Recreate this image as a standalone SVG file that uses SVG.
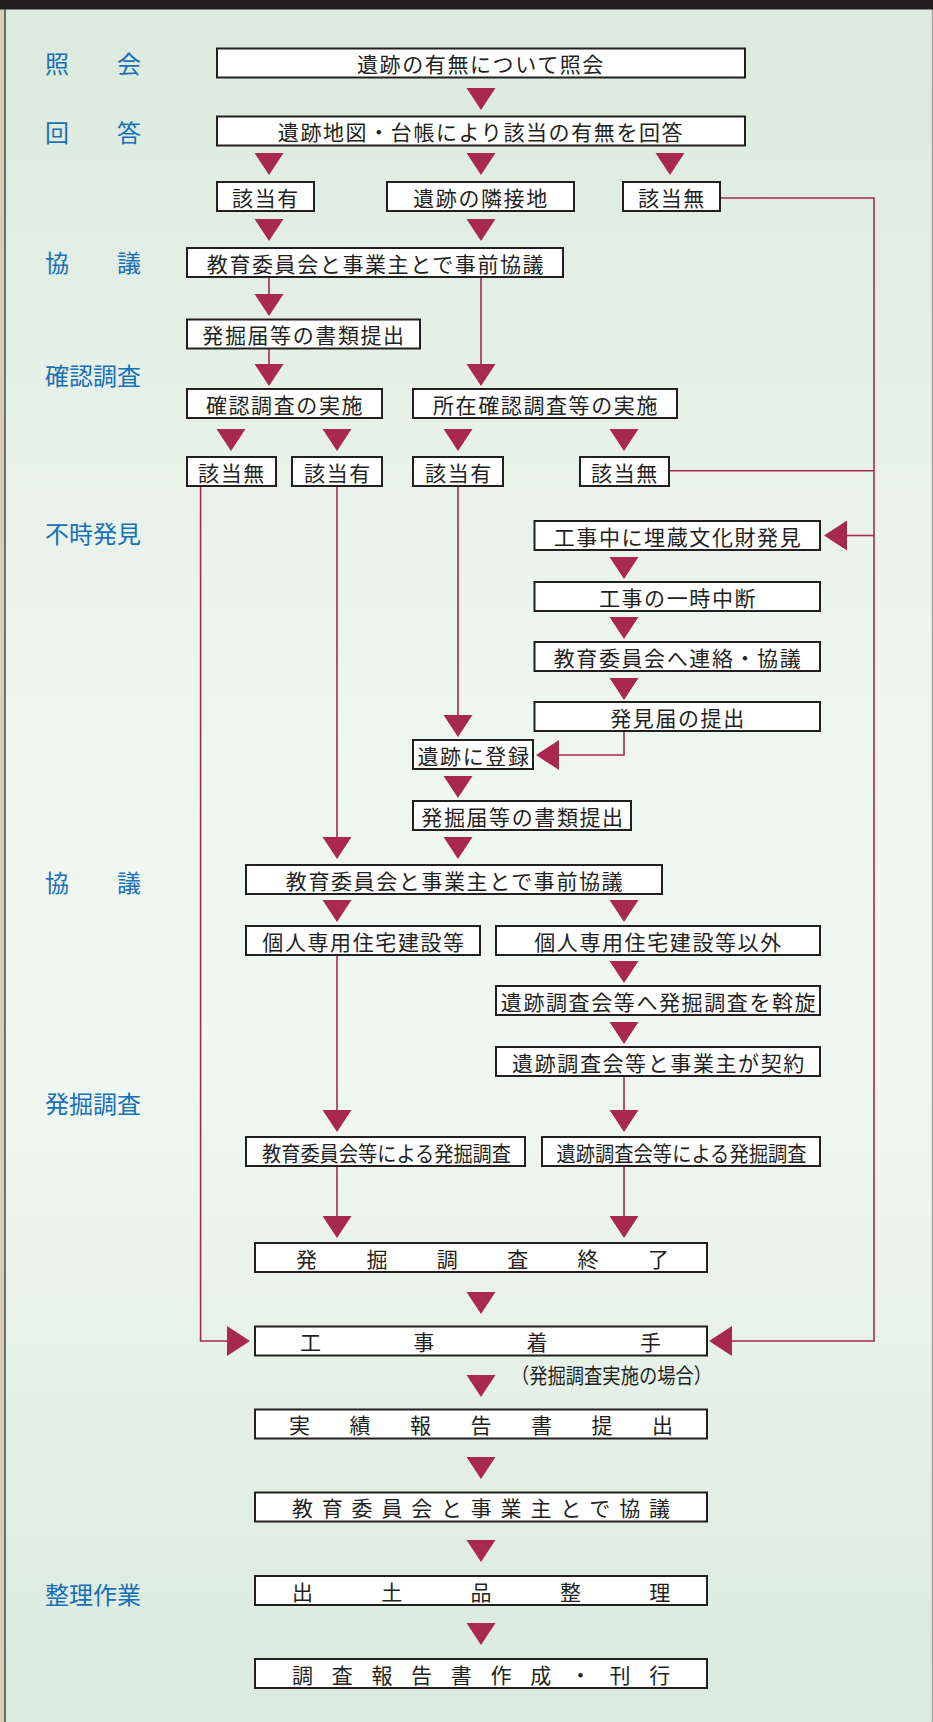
<svg xmlns="http://www.w3.org/2000/svg" xmlns:xlink="http://www.w3.org/1999/xlink" width="933" height="1722" viewBox="0 0 933 1722">
<style>
.bx{fill:#ffffff;stroke:#231f20;stroke-width:2}
.tx{font-family:"Noto Sans CJK JP","Noto Sans CJK SC",sans-serif;font-size:21px;fill:#231f20;text-anchor:middle;dominant-baseline:central;letter-spacing:1.6px}
.sp{font-family:"Noto Sans CJK JP","Noto Sans CJK SC",sans-serif;font-size:21px;fill:#231f20;dominant-baseline:central}
.lb{font-family:"Noto Sans CJK JP","Noto Sans CJK SC",sans-serif;font-size:24px;font-weight:400;fill:#1870b8;dominant-baseline:central}
.ln{fill:none;stroke:#a8284f;stroke-width:1.6}
.ar{fill:#a8284f}
</style>
<defs>
<linearGradient id="bg" x1="0" y1="0" x2="0" y2="1">
<stop offset="0" stop-color="#dbeadd"/>
<stop offset="0.42" stop-color="#eef6f0"/>
<stop offset="0.6" stop-color="#f1f8f3"/>
<stop offset="1" stop-color="#daeadd"/>
</linearGradient>
<path id="dn" class="ar" d="M-14.5,0 H14.5 L0,22 Z"/>
<path id="lt" class="ar" d="M0,0 L23,-15 V15 Z"/>
<path id="rt" class="ar" d="M0,0 L-23,-15 V15 Z"/>
</defs>

<rect x="0" y="0" width="933" height="1722" fill="#d9cdb5"/>
<rect x="5" y="0" width="927" height="1722" fill="url(#bg)"/>
<line x1="5" y1="0" x2="5" y2="1722" stroke="#4a4a4a" stroke-width="1.5"/>
<line x1="932.3" y1="0" x2="932.3" y2="1722" stroke="#9a9a9a" stroke-width="1"/>
<rect x="0" y="0" width="933" height="9.5" fill="#231f20"/>

<g id="labels">
<text class="lb" x="45" y="62" letter-spacing="48">照会</text>
<text class="lb" x="45" y="131.5" letter-spacing="48">回答</text>
<text class="lb" x="45" y="261" letter-spacing="48">協議</text>
<text class="lb" x="45" y="374">確認調査</text>
<text class="lb" x="45" y="532.5">不時発見</text>
<text class="lb" x="45" y="881" letter-spacing="48">協議</text>
<text class="lb" x="45" y="1102.5">発掘調査</text>
<text class="lb" x="45" y="1593">整理作業</text>
</g>

<g id="connectors">
<polyline class="ln" points="720,198 874,198 874,1341 732,1341"/>
<line class="ln" x1="669" y1="470.7" x2="874" y2="470.7"/>
<line class="ln" x1="874" y1="535.5" x2="845" y2="535.5"/>
<polyline class="ln" points="200.6,486 200.6,1341 227,1341"/>
<line class="ln" x1="337" y1="486" x2="337" y2="840"/>
<line class="ln" x1="458" y1="486" x2="458" y2="718"/>
<polyline class="ln" points="624,731 624,755 558,755"/>
<line class="ln" x1="269" y1="278" x2="269" y2="297"/>
<line class="ln" x1="481" y1="278" x2="481" y2="367"/>
<line class="ln" x1="269" y1="349" x2="269" y2="367"/>
<line class="ln" x1="337" y1="955" x2="337" y2="1113"/>
<line class="ln" x1="624" y1="1076" x2="624" y2="1113"/>
<line class="ln" x1="337" y1="1166" x2="337" y2="1219"/>
<line class="ln" x1="624" y1="1166" x2="624" y2="1219"/>

<use href="#dn" x="481" y="88"/>
<use href="#dn" x="269" y="153"/>
<use href="#dn" x="481" y="153"/>
<use href="#dn" x="670" y="153"/>
<use href="#dn" x="269" y="219"/>
<use href="#dn" x="481" y="219"/>
<use href="#dn" x="269" y="294"/>
<use href="#dn" x="481" y="364"/>
<use href="#dn" x="269" y="364"/>
<use href="#dn" x="231" y="429"/>
<use href="#dn" x="337" y="429"/>
<use href="#dn" x="458" y="429"/>
<use href="#dn" x="624" y="429"/>
<use href="#lt" x="824" y="535.5"/>
<use href="#dn" x="624" y="557"/>
<use href="#dn" x="624" y="617"/>
<use href="#dn" x="624" y="678"/>
<use href="#dn" x="458" y="715"/>
<use href="#lt" x="536" y="755"/>
<use href="#dn" x="458" y="776"/>
<use href="#dn" x="337" y="837"/>
<use href="#dn" x="458" y="837"/>
<use href="#dn" x="337" y="900"/>
<use href="#dn" x="624" y="900"/>
<use href="#dn" x="624" y="961"/>
<use href="#dn" x="624" y="1022"/>
<use href="#dn" x="337" y="1110"/>
<use href="#dn" x="624" y="1110"/>
<use href="#dn" x="337" y="1216"/>
<use href="#dn" x="624" y="1216"/>
<use href="#dn" x="481" y="1292"/>
<use href="#rt" x="250" y="1341"/>
<use href="#lt" x="709" y="1341"/>
<use href="#dn" x="481" y="1375"/>
<use href="#dn" x="481" y="1457"/>
<use href="#dn" x="481" y="1540"/>
<use href="#dn" x="481" y="1623"/>
</g>

<g id="n1"><rect class="bx" x="217" y="48.5" width="528" height="29"/><text class="tx" x="481" y="63">遺跡の有無について照会</text></g>
<g id="n2"><rect class="bx" x="217" y="116.5" width="528" height="29"/><text class="tx" x="481" y="131">遺跡地図・台帳により該当の有無を回答</text></g>
<g id="n3"><rect class="bx" x="217" y="182" width="97" height="29"/><text class="tx" x="266" y="196.5">該当有</text></g>
<g id="n4"><rect class="bx" x="387" y="182" width="187" height="29"/><text class="tx" x="481" y="196.5">遺跡の隣接地</text></g>
<g id="n5"><rect class="bx" x="623" y="182" width="97" height="29"/><text class="tx" x="672" y="196.5">該当無</text></g>
<g id="n6"><rect class="bx" x="187" y="248" width="376" height="29"/><text class="tx" x="376" y="262.5">教育委員会と事業主とで事前協議</text></g>
<g id="n7"><rect class="bx" x="187" y="319.5" width="233" height="29"/><text class="tx" x="304" y="334">発掘届等の書類提出</text></g>
<g id="n8"><rect class="bx" x="187" y="389" width="195" height="29"/><text class="tx" x="285" y="403.5">確認調査の実施</text></g>
<g id="n9"><rect class="bx" x="413" y="389" width="264" height="29"/><text class="tx" x="546" y="403.5">所在確認調査等の実施</text></g>
<g id="n10"><rect class="bx" x="187" y="457" width="89" height="29"/><text class="tx" x="232" y="471.5">該当無</text></g>
<g id="n11"><rect class="bx" x="292" y="457" width="90" height="29"/><text class="tx" x="338" y="471.5">該当有</text></g>
<g id="n12"><rect class="bx" x="413" y="457" width="90" height="29"/><text class="tx" x="459" y="471.5">該当有</text></g>
<g id="n13"><rect class="bx" x="580" y="457" width="89" height="29"/><text class="tx" x="625" y="471.5">該当無</text></g>
<g id="n14"><rect class="bx" x="534.5" y="521" width="285.5" height="29"/><text class="tx" x="678" y="535.5">工事中に埋蔵文化財発見</text></g>
<g id="n15"><rect class="bx" x="534.5" y="582" width="285.5" height="29"/><text class="tx" x="678" y="596.5">工事の一時中断</text></g>
<g id="n16"><rect class="bx" x="534.5" y="642" width="285.5" height="29"/><text class="tx" x="678" y="656.5">教育委員会へ連絡・協議</text></g>
<g id="n17"><rect class="bx" x="534.5" y="702" width="285.5" height="29"/><text class="tx" x="678" y="716.5">発見届の提出</text></g>
<g id="n18"><rect class="bx" x="413" y="740" width="120" height="29"/><text class="tx" x="474" y="754.5">遺跡に登録</text></g>
<g id="n19"><rect class="bx" x="413" y="801" width="218" height="29"/><text class="tx" x="523" y="815.5">発掘届等の書類提出</text></g>
<g id="n20"><rect class="bx" x="246" y="865" width="416" height="29"/><text class="tx" x="455" y="879.5">教育委員会と事業主とで事前協議</text></g>
<g id="n21"><rect class="bx" x="246" y="926" width="234" height="29"/><text class="tx" x="364" y="940.5">個人専用住宅建設等</text></g>
<g id="n22"><rect class="bx" x="496" y="926" width="324" height="29"/><text class="tx" x="658.5" y="940.5">個人専用住宅建設等以外</text></g>
<g id="n23"><rect class="bx" x="496" y="986" width="324" height="29"/><text class="tx" x="659" y="1000.5">遺跡調査会等へ発掘調査を斡旋</text></g>
<g id="n24"><rect class="bx" x="496" y="1047" width="324" height="29"/><text class="tx" x="659" y="1061.5">遺跡調査会等と事業主が契約</text></g>
<g id="n25"><rect class="bx" x="246" y="1137" width="279" height="29"/><text class="sp" x="262" y="1151.5" textLength="249" lengthAdjust="spacingAndGlyphs">教育委員会等による発掘調査</text></g>
<g id="n26"><rect class="bx" x="542" y="1137" width="278" height="29"/><text class="sp" x="556.5" y="1151.5" textLength="250" lengthAdjust="spacingAndGlyphs">遺跡調査会等による発掘調査</text></g>
<g id="n27"><rect class="bx" x="255" y="1243" width="452" height="29"/><text class="sp" x="296" y="1257.5" letter-spacing="49.4">発掘調査終了</text></g>
<g id="n28"><rect class="bx" x="255" y="1326.5" width="452" height="29"/><text class="sp" x="300" y="1341" letter-spacing="92.3">工事着手</text></g>
<g id="n28note"><text class="sp" x="511" y="1374" font-size="17" textLength="201" lengthAdjust="spacingAndGlyphs">（発掘調査実施の場合）</text></g>
<g id="n29"><rect class="bx" x="255" y="1409.5" width="452" height="29"/><text class="sp" x="289" y="1424" letter-spacing="39.5">実績報告書提出</text></g>
<g id="n30"><rect class="bx" x="255" y="1492.5" width="452" height="29"/><text class="sp" x="292" y="1507" letter-spacing="8.8">教育委員会と事業主とで協議</text></g>
<g id="n31"><rect class="bx" x="255" y="1576" width="452" height="29"/><text class="sp" x="292" y="1590.5" letter-spacing="68.3">出土品整理</text></g>
<g id="n32"><rect class="bx" x="255" y="1659" width="452" height="29"/><text class="sp" x="292" y="1673.5" letter-spacing="18.7">調査報告書作成・刊行</text></g>
</svg>
